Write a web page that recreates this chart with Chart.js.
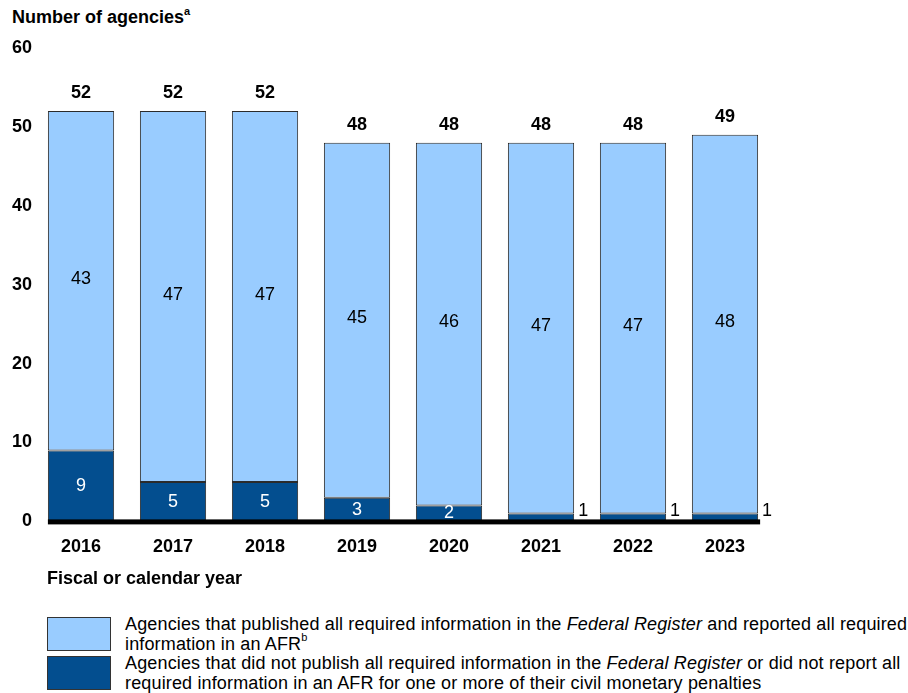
<!DOCTYPE html>
<html>
<head>
<meta charset="utf-8">
<script src="https://cdn.jsdelivr.net/npm/chart.js@4.4.1/dist/chart.umd.min.js"></script>
<style>
    body { margin: 0; background: #fff; font-family: "Liberation Sans", Arial, sans-serif; overflow: hidden; }
    #wrap { position: relative; width: 908px; height: 693px; overflow: hidden; }
    #chartBox { position: absolute; left: 0; top: 0; width: 908px; height: 578px; }
    .ytitle { position: absolute; left: 12px; top: 7px; font-weight: bold; font-size: 18px; color: #000; white-space: nowrap; }
    .ytitle sup { font-size: 11px; vertical-align: 8px; line-height: 0; }
    .xtitle { position: absolute; left: 47px; top: 568px; font-weight: bold; font-size: 18px; color: #000; white-space: nowrap; }
    .legend { position: absolute; left: 47px; font-size: 18px; line-height: 20px; color: #000; letter-spacing: 0.15px; }
    .legend sup { font-size: 11px; vertical-align: 9px; line-height: 0; }
    .legend .box { position: absolute; left: 0; top: 0; width: 62px; height: 32px; border: 1px solid #333; }
    .legend .txt { position: absolute; left: 78px; top: -3px; white-space: nowrap; }
</style>
</head>
<body>
<div id="wrap">
    <div class="ytitle">Number of agencies<sup>a</sup></div>
    <div id="chartBox"><canvas id="penaltyChart" width="908" height="578"></canvas></div>
    <div class="xtitle">Fiscal or calendar year</div>
    <div class="legend" style="top:617px;">
        <div class="box" style="background:#99ccff;"></div>
        <div class="txt">Agencies that published all required information in the <i>Federal Register</i> and reported all required<br>information in an AFR<sup>b</sup></div>
    </div>
    <div class="legend" style="top:656px;">
        <div class="box" style="background:#034e8f;"></div>
        <div class="txt">Agencies that did not publish all required information in the <i>Federal Register</i> or did not report all<br>required information in an AFR for one or more of their civil monetary penalties</div>
    </div>
</div>
<script>
var years = ['2016', '2017', '2018', '2019', '2020', '2021', '2022', '2023'];
var notCompliant = [9, 5, 5, 3, 2, 1, 1, 1];
var compliant = [43, 47, 47, 45, 46, 47, 47, 48];
var yTicks = [0, 10, 20, 30, 40, 50, 60];

var lightBlue = '#99ccff';
var darkBlue = '#034e8f';
var fontName = '"Liberation Sans", Arial, sans-serif';

// labels inside segments, totals on top, and the thick baseline
var barLabels = {
    id: 'barLabels',
    afterDatasetsDraw: function(chart) {
        var ctx = chart.ctx;
        var darkMeta = chart.getDatasetMeta(0);
        var lightMeta = chart.getDatasetMeta(1);
        var area = chart.chartArea;
        ctx.save();

        // baseline
        var first = darkMeta.data[0];
        var last = darkMeta.data[darkMeta.data.length - 1];
        var x0 = first.x - first.width / 2;
        var x1 = last.x + last.width / 2 + 2;
        ctx.fillStyle = '#000';
        ctx.fillRect(x0, area.bottom - 2, x1 - x0, 5);

        ctx.textBaseline = 'middle';
        for (var i = 0; i < years.length; i++) {
            var d = darkMeta.data[i];
            var l = lightMeta.data[i];
            ctx.font = '18px ' + fontName;

            // light segment value
            ctx.fillStyle = '#000';
            ctx.textAlign = 'center';
            ctx.fillText(compliant[i], l.x, (l.y + l.base) / 2 - 2);

            // dark segment value
            if (notCompliant[i] > 1) {
                ctx.fillStyle = '#fff';
                ctx.fillText(notCompliant[i], d.x, (d.y + d.base) / 2);
            } else {
                ctx.fillStyle = '#000';
                ctx.textAlign = 'left';
                ctx.fillText(notCompliant[i], d.x + d.width / 2 + 4, d.y - 2);
            }

            // total
            ctx.font = 'bold 18px ' + fontName;
            ctx.fillStyle = '#000';
            ctx.textAlign = 'center';
            ctx.fillText(compliant[i] + notCompliant[i], l.x, l.y - 18);
        }
        ctx.restore();
    }
};

document.addEventListener('DOMContentLoaded', function() {
    var cont = document.getElementById('penaltyChart').getContext('2d');
    var myChart = new Chart(cont, {
        type: 'bar',
        data: {
            labels: years,
            datasets: [{
                label: 'not compliant',
                data: notCompliant,
                backgroundColor: darkBlue,
                borderColor: '#2b2b2b',
                borderWidth: 1,
                borderSkipped: false
            }, {
                label: 'compliant',
                data: compliant,
                backgroundColor: lightBlue,
                borderColor: '#2b2b2b',
                borderWidth: 1,
                borderSkipped: false
            }]
        },
        options: {
            responsive: false,
            animation: false,
            devicePixelRatio: 1,
            layout: {
                padding: { left: 9, right: 137, top: 48, bottom: 5 }
            },
            scales: {
                x: {
                    stacked: true,
                    categoryPercentage: 1,
                    barPercentage: 0.717,
                    grid: { display: false, drawTicks: false },
                    border: { display: false },
                    ticks: {
                        color: '#000',
                        padding: 15,
                        font: { family: fontName, size: 18, weight: 'bold' }
                    }
                },
                y: {
                    stacked: true,
                    min: 0,
                    max: 60,
                    afterBuildTicks: function(axis) {
                        axis.ticks = yTicks.map(function(v) { return { value: v }; });
                    },
                    grid: { display: false, drawTicks: false },
                    border: { display: false },
                    ticks: {
                        color: '#000',
                        padding: 3,
                        font: { family: fontName, size: 18, weight: 'bold' }
                    }
                }
            },
            plugins: {
                legend: { display: false },
                tooltip: { enabled: false }
            }
        },
        plugins: [barLabels]
    });
});
</script>
</body>
</html>
